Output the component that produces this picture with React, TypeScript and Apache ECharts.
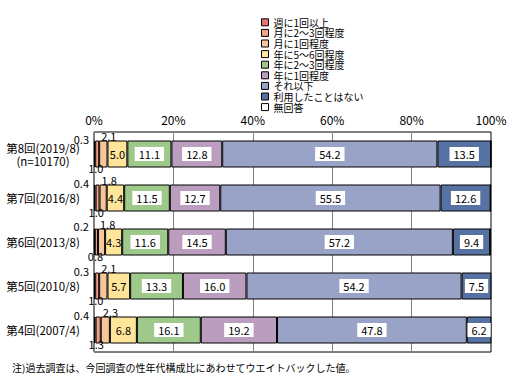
import React, { useEffect, useRef } from "react";
import * as echarts from "echarts";

const categories = [
  "第8回(2019/8)\n(n=10170)",
  "第7回(2016/8)",
  "第6回(2013/8)",
  "第5回(2010/8)",
  "第4回(2007/4)",
];

const seriesNames = [
  "週に1回以上",
  "月に2～3回程度",
  "月に1回程度",
  "年に5～6回程度",
  "年に2～3回程度",
  "年に1回程度",
  "それ以下",
  "利用したことはない",
  "無回答",
];

const weekly = [0.3, 0.4, 0.2, 0.3, 0.4];
const month23 = [1.0, 1.0, 0.8, 1.0, 1.3];
const month1 = [2.1, 1.8, 1.8, 2.1, 2.3];
const year56 = [5.0, 4.4, 4.3, 5.7, 6.8];
const year23 = [11.1, 11.5, 11.6, 13.3, 16.1];
const year1 = [12.8, 12.7, 14.5, 16.0, 19.2];
const less = [54.2, 55.5, 57.2, 54.2, 47.8];
const never = [13.5, 12.6, 9.4, 7.5, 6.2];
const noAnswer = [0, 0, 0, 0, 0];

const xTicks = [0, 20, 40, 60, 80, 100];

const colors = [
  "#E4726E",
  "#F2A287",
  "#F9C59A",
  "#FEE59A",
  "#9FC98A",
  "#BA9DBF",
  "#98A3C7",
  "#5672A3",
  "#FFFFFF",
];

const FONT = '"Noto Sans CJK JP", "Noto Sans", sans-serif';

export default function App() {
  const ref = useRef<HTMLDivElement>(null);

  useEffect(() => {
    document.body.style.margin = "0";
    if (!ref.current) return;
    const chart = echarts.init(ref.current, null, { renderer: "svg" });

    const values = [weekly, month23, month1, year56, year23, year1, less, never, noAnswer];
    const fmt = (p: any) => (p.value > 0 ? Number(p.value).toFixed(1) : "");
    const baseLabel = {
      show: true,
      color: "#000",
      fontSize: 11,
      fontFamily: FONT,
      formatter: fmt,
    };
    const labelFor = (i: number): any => {
      if (i === 0)
        return { ...baseLabel, position: [-5, -2], align: "right", verticalAlign: "middle" };
      if (i === 1)
        return { ...baseLabel, position: [-7, "100%"], align: "left", verticalAlign: "middle", offset: [0, 5] };
      if (i === 2)
        return { ...baseLabel, position: [2, -5], align: "left", verticalAlign: "middle" };
      if (i === 3) return { ...baseLabel, position: "inside" };
      if (i === 8) return { show: false };
      return {
        ...baseLabel,
        position: "inside",
        backgroundColor: "#fff",
        padding: [2, 4, 1, 4],
        lineHeight: 11,
      };
    };

    const series = seriesNames.map((name, i) => ({
      name,
      type: "bar",
      stack: "total",
      barWidth: 27,
      data: values[i],
      itemStyle: { color: colors[i], borderColor: "#000", borderWidth: 1 },
      label: labelFor(i),
      labelLayout: { hideOverlap: false },
    }));

    chart.setOption({
      animation: false,
      textStyle: { fontFamily: FONT },
      legend: {
        orient: "vertical",
        left: 256,
        top: 12,
        itemWidth: 7,
        itemHeight: 7,
        itemGap: 0,
        icon: "rect",
        textStyle: { fontSize: 10, color: "#000", fontFamily: FONT, lineHeight: 10.6 },
        itemStyle: { borderColor: "#000", borderWidth: 1 },
        data: seriesNames,
      },
      grid: {
        left: 94,
        right: 26,
        top: 132,
        bottom: 29,
        show: true,
        borderColor: "#000",
        borderWidth: 1,
        containLabel: false,
      },
      xAxis: {
        type: "value",
        position: "top",
        min: xTicks[0],
        max: xTicks[xTicks.length - 1],
        interval: 20,
        axisLine: { show: false },
        axisTick: { show: false },
        axisLabel: {
          formatter: "{value}%",
          color: "#000",
          fontSize: 12,
          fontFamily: FONT,
          margin: 7,
        },
        splitLine: { show: true, lineStyle: { color: "#808080", width: 1 } },
      },
      yAxis: {
        type: "category",
        inverse: true,
        data: categories,
        axisLine: { show: false },
        axisTick: { show: false },
        axisLabel: {
          color: "#000",
          fontSize: 11.5,
          fontFamily: FONT,
          align: "center",
          margin: 51,
          lineHeight: 13,
        },
      },
      graphic: [
        {
          type: "text",
          left: 12,
          top: 362,
          style: {
            text: "注)過去調査は、今回調査の性年代構成比にあわせてウエイトバックした値。",
            fontSize: 10,
            fontFamily: FONT,
            fill: "#000",
          },
        },
      ],
      series,
    });

    return () => chart.dispose();
  }, []);

  return <div ref={ref} style={{ width: 517, height: 381 }} />;
}
